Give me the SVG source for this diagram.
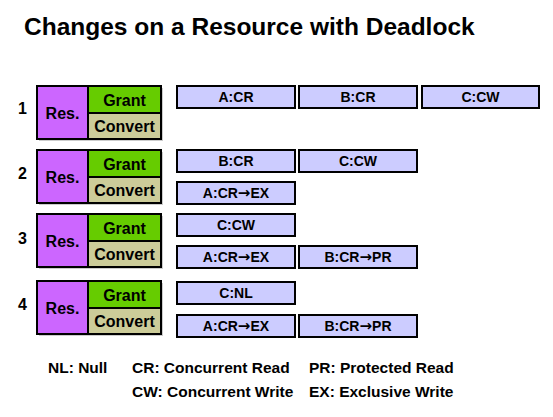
<svg xmlns="http://www.w3.org/2000/svg" width="553" height="417" viewBox="0 0 553 417">
<style>
text{font-family:"Liberation Sans",Arial,sans-serif;font-weight:bold;fill:#000}
.t{font-size:24.5px}
.n{font-size:16px}
.c{font-size:16px;text-anchor:middle}
.l{font-size:14px;text-anchor:middle}
.g{font-size:15.5px}
.ar{font-family:"DejaVu Sans",sans-serif;font-size:15px}
.res{fill:#CC66FF;stroke:#000;stroke-width:2}
.gr{fill:#66CC00;stroke:#000;stroke-width:2}
.cv{fill:#CCCC99;stroke:#000;stroke-width:2}
.lk{fill:#CCCCFF;stroke:#000;stroke-width:2}
.sh{fill:#999;opacity:0.5}
</style>
<defs>
<g id="blk">
<rect class="sh" x="39" y="2" width="124" height="53"/>
<rect class="res" x="37" y="0" width="51" height="53"/>
<rect class="gr" x="88" y="0" width="73" height="27"/>
<rect class="cv" x="88" y="27" width="73" height="26"/>
<text class="c" x="62.5" y="33">Res.</text>
<text class="c" x="124.5" y="19.5">Grant</text>
<text class="c" x="124.5" y="46">Convert</text>
</g>
</defs>
<rect width="553" height="417" fill="#fff"/>
<text class="t" x="24" y="35">Changes on a Resource with Deadlock</text>
<g id="step1"><text class="n" x="18" y="114">1</text><use href="#blk" y="86"/></g>
<g id="step2"><text class="n" x="18" y="179">2</text><use href="#blk" y="150"/></g>
<g id="step3"><text class="n" x="18" y="244">3</text><use href="#blk" y="214"/></g>
<g id="step4"><text class="n" x="18" y="310">4</text><use href="#blk" y="281"/></g>
<g id="locks">
<g id="l1a"><rect class="lk" x="177" y="86" width="118" height="22"/><text class="l" x="236" y="102">A:CR</text></g>
<g id="l1b"><rect class="lk" x="299" y="86" width="118" height="22"/><text class="l" x="358" y="102">B:CR</text></g>
<g id="l1c"><rect class="lk" x="422" y="86" width="117" height="22"/><text class="l" x="480.5" y="102">C:CW</text></g>
<g id="l2a"><rect class="lk" x="177" y="150" width="118" height="22"/><text class="l" x="236" y="166">B:CR</text></g>
<g id="l2b"><rect class="lk" x="299" y="150" width="118" height="22"/><text class="l" x="358" y="166">C:CW</text></g>
<g id="l2c"><rect class="lk" x="177" y="182" width="118" height="22"/><text class="l" x="236" y="198">A:CR<tspan class="ar">→</tspan>EX</text></g>
<g id="l3a"><rect class="lk" x="177" y="214" width="118" height="22"/><text class="l" x="236" y="230">C:CW</text></g>
<g id="l3b"><rect class="lk" x="177" y="246" width="118" height="22"/><text class="l" x="236" y="262">A:CR<tspan class="ar">→</tspan>EX</text></g>
<g id="l3c"><rect class="lk" x="299" y="246" width="118" height="22"/><text class="l" x="358" y="262">B:CR<tspan class="ar">→</tspan>PR</text></g>
<g id="l4a"><rect class="lk" x="177" y="282" width="118" height="22"/><text class="l" x="236" y="298">C:NL</text></g>
<g id="l4b"><rect class="lk" x="177" y="315" width="118" height="22"/><text class="l" x="236" y="331">A:CR<tspan class="ar">→</tspan>EX</text></g>
<g id="l4c"><rect class="lk" x="299" y="315" width="118" height="22"/><text class="l" x="358" y="331">B:CR<tspan class="ar">→</tspan>PR</text></g>
</g>
<g id="legend">
<text class="g" x="48" y="373">NL: Null</text>
<text class="g" x="132" y="373">CR: Concurrent Read</text>
<text class="g" x="309" y="373">PR: Protected Read</text>
<text class="g" x="132" y="397">CW: Concurrent Write</text>
<text class="g" x="309" y="397">EX: Exclusive Write</text>
</g>
<g id="connectors"/>
</svg>
